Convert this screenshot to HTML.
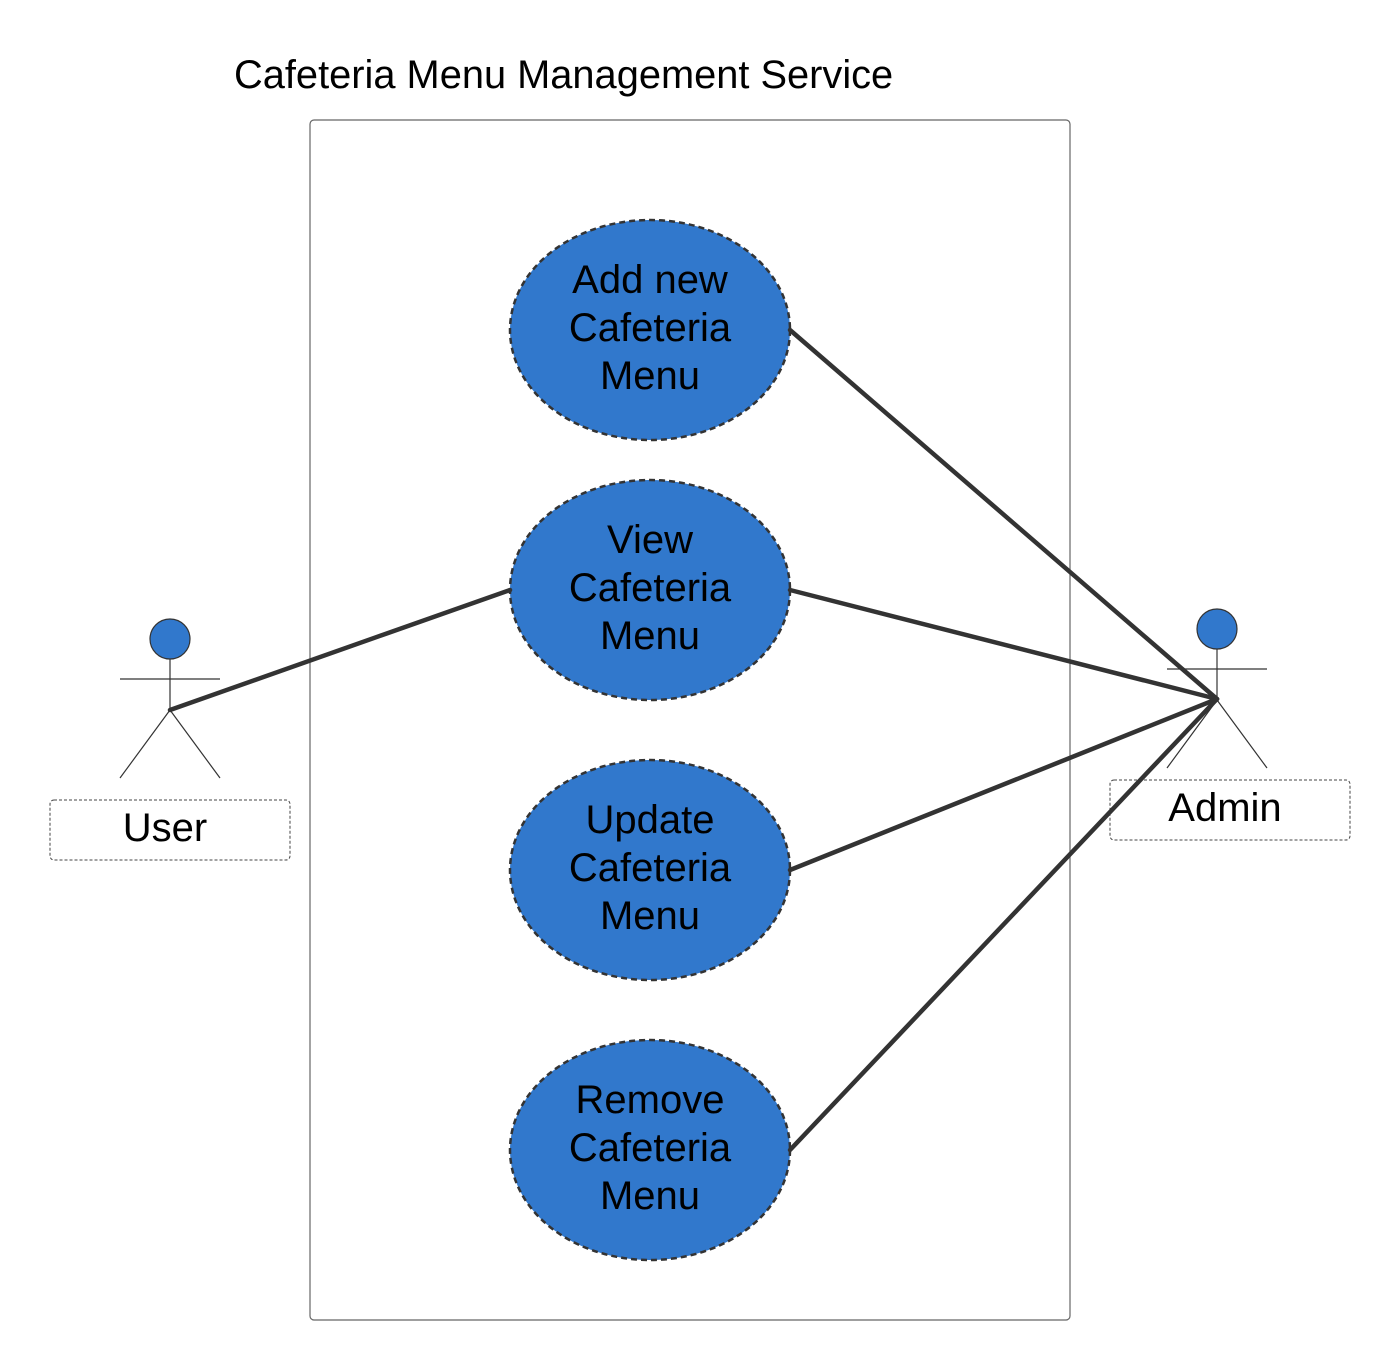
<!DOCTYPE html>
<html><head><meta charset="utf-8"><style>html,body{margin:0;padding:0;background:#fff}</style></head><body>
<svg width="1390" height="1360" viewBox="0 0 1390 1360" xmlns="http://www.w3.org/2000/svg" font-family="Liberation Sans, Arial, sans-serif">
<text x="234" y="88" font-size="39.8" fill="#000">Cafeteria Menu Management Service</text>
<rect x="310" y="120" width="760" height="1200" rx="4" fill="#fff" stroke="#666" stroke-width="1.2"/>
<g fill="#3178cc" stroke="#333" stroke-width="2.5" stroke-dasharray="6,4">
<ellipse cx="650" cy="330" rx="140" ry="110"/>
<ellipse cx="650" cy="590" rx="140" ry="110"/>
<ellipse cx="650" cy="870" rx="140" ry="110"/>
<ellipse cx="650" cy="1150" rx="140" ry="110"/>
</g>
<g font-size="40" fill="#000" text-anchor="middle">
<text x="650" y="293">Add new</text><text x="650" y="341">Cafeteria</text><text x="650" y="389">Menu</text>
<text x="650" y="553">View</text><text x="650" y="601">Cafeteria</text><text x="650" y="649">Menu</text>
<text x="650" y="833">Update</text><text x="650" y="881">Cafeteria</text><text x="650" y="929">Menu</text>
<text x="650" y="1113">Remove</text><text x="650" y="1161">Cafeteria</text><text x="650" y="1209">Menu</text>
</g>
<g stroke="#333" stroke-width="1.2" fill="none">
<line x1="170" y1="659" x2="170" y2="710"/><line x1="120" y1="679" x2="220" y2="679"/>
<line x1="170" y1="710" x2="120" y2="778"/><line x1="170" y1="710" x2="220" y2="778"/>
<line x1="1217" y1="649" x2="1217" y2="700"/><line x1="1167" y1="669" x2="1267" y2="669"/>
<line x1="1217" y1="700" x2="1167" y2="768"/><line x1="1217" y1="700" x2="1267" y2="768"/>
</g>
<circle cx="170" cy="639" r="20" fill="#3178cc" stroke="#333" stroke-width="1.2"/>
<circle cx="1217" cy="629" r="20" fill="#3178cc" stroke="#333" stroke-width="1.2"/>
<rect x="50" y="800" width="240" height="60" rx="4" fill="none" stroke="#444" stroke-width="1" stroke-dasharray="3,2"/>
<rect x="1110" y="780" width="240" height="60" rx="4" fill="none" stroke="#444" stroke-width="1" stroke-dasharray="3,2"/>
<text x="165" y="841" font-size="40" text-anchor="middle">User</text>
<text x="1225" y="821" font-size="40" text-anchor="middle">Admin</text>
<g stroke="#333" stroke-width="4.5" stroke-linecap="round">
<line x1="170" y1="710" x2="510" y2="590"/>
<line x1="1217" y1="699" x2="790" y2="330"/>
<line x1="1217" y1="699" x2="790" y2="590"/>
<line x1="1217" y1="699" x2="790" y2="870"/>
<line x1="1217" y1="699" x2="790" y2="1150"/>
</g>
</svg>
</body></html>
